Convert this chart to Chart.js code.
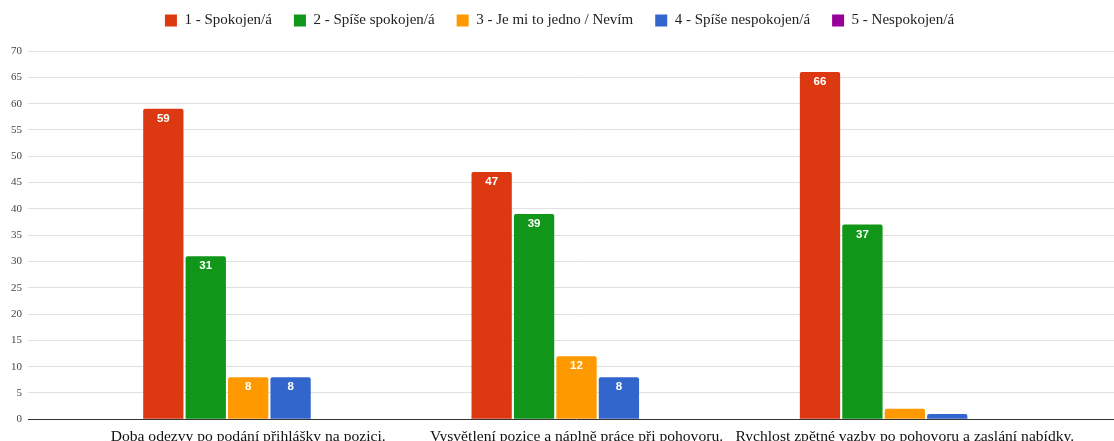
<!DOCTYPE html>
<html lang="cs">
<head>
<meta charset="utf-8">
<title>Spokojenost</title>
<script src="https://cdn.jsdelivr.net/npm/chart.js@4/dist/chart.umd.min.js"></script>
<style>
  html, body { margin: 0; padding: 0; background: #fff; overflow: hidden; }
  #wrap { position: relative; width: 1114px; height: 446px; }
</style>
</head>
<body>
<div id="wrap"><canvas id="chart"></canvas></div>
<script>
// Kategorie (x-akseli)
const categories = [
  'Doba odezvy po podání přihlášky na pozici.',
  'Vysvětlení pozice a náplně práce při pohovoru.',
  'Rychlost zpětné vazby po pohovoru a zaslání nabídky.'
];

// Sarjojen nimet ja arvot
const seriesNames = [
  '1 - Spokojen/á',
  '2 - Spíše spokojen/á',
  '3 - Je mi to jedno / Nevím',
  '4 - Spíše nespokojen/á',
  '5 - Nespokojen/á'
];
const spokojen = [59, 47, 66];
const spiseSpokojen = [31, 39, 37];
const jednoNevim = [8, 12, 2];
const spiseNespokojen = [8, 8, 1];
const nespokojen = [0, 0, 0];

// y-akselin asteikko
const yMin = 0;
const yMax = 70;
const yStep = 5;

const colors = ['#dc3912', '#109618', '#ff9900', '#3366cc', '#990099'];
const values = [spokojen, spiseSpokojen, jednoNevim, spiseNespokojen, nespokojen];

// Arvot palkkien sisään (valkoinen lihavoitu teksti)
const barLabels = {
  id: 'barLabels',
  afterDatasetsDraw(chart) {
    const ctx = chart.ctx;
    ctx.save();
    ctx.font = 'bold 11.5px "Liberation Sans", Arial, sans-serif';
    ctx.textAlign = 'center';
    ctx.textBaseline = 'middle';
    ctx.fillStyle = '#ffffff';
    chart.data.datasets.forEach((ds, i) => {
      const meta = chart.getDatasetMeta(i);
      meta.data.forEach((bar, j) => {
        const v = ds.data[j];
        if (!v) return;
        const h = bar.base - bar.y;
        const y = h >= 20 ? bar.y + 10 : bar.y - 8;
        ctx.fillText(String(v), bar.x, y);
      });
    });
    ctx.restore();
  }
};

// Lisätilaa legendan alle
const legendGap = {
  id: 'legendGap',
  beforeInit(chart) {
    const fit = chart.legend.fit;
    chart.legend.fit = function () {
      fit.bind(chart.legend)();
      this.height += 13;
    };
  }
};

const gridColor = c => (c.tick && c.tick.value === 0 ? '#333333' : '#e0e0e0');

new Chart(document.getElementById('chart'), {
  type: 'bar',
  data: {
    labels: categories,
    datasets: seriesNames.map((name, i) => ({
      label: name,
      data: values[i],
      backgroundColor: colors[i],
      borderRadius: { topLeft: 2, topRight: 2 },
      borderSkipped: 'bottom',
      categoryPercentage: 0.646,
      barPercentage: 0.95
    }))
  },
  options: {
    responsive: true,
    maintainAspectRatio: false,
    animation: false,
    layout: { padding: { top: -9, left: 5, right: 0, bottom: 0 } },
    plugins: {
      legend: {
        position: 'top',
        labels: {
          boxWidth: 12,
          boxHeight: 12,
          padding: 22,
          color: '#222',
          font: { family: '"Liberation Serif", "Times New Roman", serif', size: 15 }
        }
      },
      tooltip: { enabled: false }
    },
    scales: {
      x: {
        grid: { display: false },
        border: { display: false },
        ticks: {
          color: '#111',
          padding: 0,
          maxRotation: 0,
          autoSkip: false,
          font: { family: '"Liberation Serif", "Times New Roman", serif', size: 15.6 }
        }
      },
      y: {
        min: yMin,
        max: yMax,
        border: { display: false },
        grid: { color: gridColor, tickLength: 56, lineWidth: 1 },
        ticks: {
          stepSize: yStep,
          padding: 6,
          color: '#444',
          font: { family: '"Liberation Serif", "Times New Roman", serif', size: 11 }
        }
      },
      y2: {
        position: 'right',
        min: yMin,
        max: yMax,
        border: { display: false },
        grid: { color: gridColor, tickLength: 45, drawOnChartArea: false },
        ticks: { stepSize: yStep, display: false }
      }
    }
  },
  plugins: [barLabels, legendGap]
});
</script>
</body>
</html>
